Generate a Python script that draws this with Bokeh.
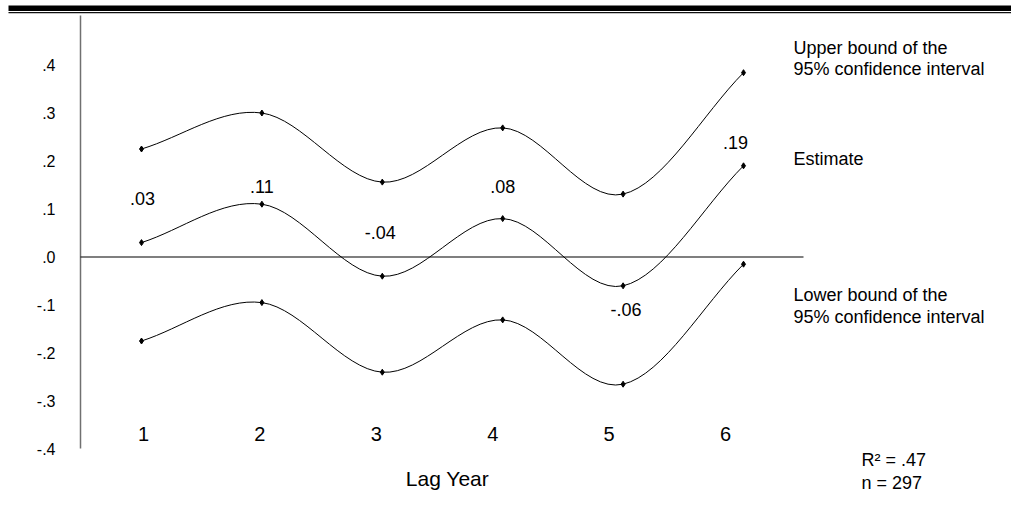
import numpy as np
from bokeh.plotting import figure
from bokeh.models import Range1d, ColumnDataSource
from bokeh.core.properties import value
from bokeh.embed import file_html
from bokeh.resources import INLINE

# ---------------- data ----------------
lag_years = [1, 2, 3, 4, 5, 6]
x_tick_labels = ["1", "2", "3", "4", "5", "6"]
estimate = [0.03, 0.11, -0.04, 0.08, -0.06, 0.19]
estimate_labels = [".03", ".11", "-.04", ".08", "-.06", ".19"]
upper_bound = [0.225, 0.300, 0.156, 0.269, 0.131, 0.384]
lower_bound = [-0.175, -0.095, -0.240, -0.131, -0.265, -0.015]
y_ticks = [0.4, 0.3, 0.2, 0.1, 0.0, -0.1, -0.2, -0.3, -0.4]
y_tick_labels = [".4", ".3", ".2", ".1", ".0", "-.1", "-.2", "-.3", "-.4"]
x_title = "Lag Year"
upper_text = ["Upper bound of the", "95% confidence interval"]
estimate_text = ["Estimate"]
lower_text = ["Lower bound of the", "95% confidence interval"]
stats_text = ["R\u00b2 = .47", "n = 297"]

# ---------------- layout / style ----------------
W, H = 1011, 518
X0PX, XSTEP = 141.0, 120.4      # pixel of lag 1, pixels per lag
TX0PX, TXSTEP = 143.0, 116.4    # tick label scale
Y0PX, YSCALE = 256.5, 480.0     # pixel of 0, pixels per unit
FONT = value("Liberation Sans")
label_dx = [1, 0, -2, 0, 3, -8]
label_dy = [-44, -18, -44, -32, 24, -23]


def px_x(px):
    return 1 + (px - X0PX) / XSTEP


def px_y(py):
    return (Y0PX - py) / YSCALE


p = figure(width=W, height=H, output_backend="svg", toolbar_location=None,
           x_range=Range1d(px_x(0), px_x(W)), y_range=Range1d(px_y(H), px_y(0)),
           min_border=0, min_border_left=0, min_border_right=0,
           min_border_top=0, min_border_bottom=0)
p.axis.visible = False
p.grid.visible = False
p.outline_line_color = None
p.background_fill_color = "white"
p.border_fill_color = "white"
p.extra_x_ranges = {"ticks": Range1d(1 - TX0PX / TXSTEP, 1 + (W - TX0PX) / TXSTEP)}

# top double rule
p.quad(left=[px_x(8)], right=[px_x(W)], top=[px_y(5)], bottom=[px_y(10.5)],
       fill_color="black", line_color=None)
p.segment(x0=[px_x(8)], x1=[px_x(W)], y0=[px_y(12.2)], y1=[px_y(12.2)],
          line_color="#111111", line_width=1.3)

# y axis line & zero line
p.segment(x0=[px_x(80)], x1=[px_x(80)], y0=[px_y(15)], y1=[px_y(448)],
          line_color="#707070", line_width=1.5)
p.segment(x0=[px_x(80)], x1=[px_x(803)], y0=[0], y1=[0],
          line_color="black", line_width=1.2)

# y tick labels
p.text(x=[px_x(55)] * len(y_ticks), y=y_ticks, text=y_tick_labels,
       text_font=FONT, text_font_size="16px", text_align="right",
       text_baseline="middle", text_color="black")

# x tick labels
p.text(x=lag_years, y=[px_y(433)] * len(lag_years), text=x_tick_labels,
       x_range_name="ticks", text_font=FONT, text_font_size="20px",
       text_align="center", text_baseline="middle", text_color="black")


def bezier_parts(xs, ys):
    xs = np.asarray(xs, float)
    ys = np.asarray(ys, float)
    n = len(xs)
    mx = np.empty(n)
    my = np.empty(n)
    mx[1:-1] = (xs[2:] - xs[:-2]) / 2
    my[1:-1] = (ys[2:] - ys[:-2]) / 2
    mx[0], my[0] = xs[1] - xs[0], ys[1] - ys[0]
    mx[-1], my[-1] = xs[-1] - xs[-2], ys[-1] - ys[-2]
    return dict(x0=xs[:-1], y0=ys[:-1], x1=xs[1:], y1=ys[1:],
                cx0=xs[:-1] + mx[:-1] / 3, cy0=ys[:-1] + my[:-1] / 3,
                cx1=xs[1:] - mx[1:] / 3, cy1=ys[1:] - my[1:] / 3)


for series in (upper_bound, estimate, lower_bound):
    src = ColumnDataSource(bezier_parts(lag_years, series))
    p.bezier(x0="x0", y0="y0", x1="x1", y1="y1", cx0="cx0", cy0="cy0",
             cx1="cx1", cy1="cy1", source=src, line_color="black", line_width=1)
    p.scatter(x=lag_years, y=series, marker="diamond", size=6,
              fill_color="black", line_color="black")

# estimate value labels
lab_src = ColumnDataSource(dict(x=lag_years, y=estimate, text=estimate_labels,
                                dx=label_dx, dy=label_dy))
p.text(x="x", y="y", text="text", x_offset="dx", y_offset="dy", source=lab_src,
       text_font=FONT, text_font_size="18px", text_align="center",
       text_baseline="middle", text_color="black")

# right-side annotations
def add_lines(lines, xpx, ypxs, size="18px", align="left"):
    p.text(x=[px_x(xpx)] * len(lines), y=[px_y(v) for v in ypxs], text=lines,
           text_font=FONT, text_font_size=size, text_align=align,
           text_baseline="middle", text_color="black")


add_lines(upper_text, 793, [47, 68])
add_lines(estimate_text, 793, [158])
add_lines(lower_text, 793, [294, 316])
add_lines(stats_text, 861, [459, 482])
add_lines([x_title], 447, [478], size="21px", align="center")

open("out.html", "w").write(file_html(p, INLINE))
